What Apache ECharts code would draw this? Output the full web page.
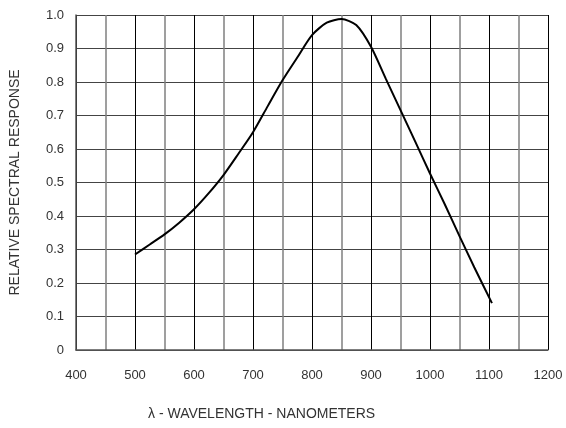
<!DOCTYPE html>
<html>
<head>
<meta charset="utf-8">
<script src="https://cdn.jsdelivr.net/npm/echarts@6/dist/echarts.min.js"></script>
<style>html,body{margin:0;padding:0;background:#fff}#c{width:566px;height:428px}</style>
</head>
<body>
<div id="c"></div>
<script>
const wavelength = [500,525,550,575,600,625,650,675,700,725,750,775,800,825,850,875,900,925,950,975,1000,1025,1050,1075,1105];
const response   = [0.285,0.315,0.345,0.38,0.42,0.468,0.522,0.585,0.65,0.728,0.805,0.873,0.94,0.977,0.988,0.97,0.905,0.81,0.716,0.622,0.527,0.435,0.34,0.247,0.14];
const xTitle = 'λ - WAVELENGTH - NANOMETERS';
const yTitle = 'RELATIVE SPECTRAL RESPONSE';

const chart = echarts.init(document.getElementById('c'));
const font = 'Liberation Sans, Arial, Helvetica, sans-serif';
chart.setOption({
  animation: false,
  backgroundColor: '#fff',
  grid: {left: 74.5, right: 18, top: 15, bottom: 78, containLabel: false},
  xAxis: {
    type: 'value', min: 400, max: 1200, interval: 100,
    axisLine: {show: true, lineStyle: {color: '#555', width: 1.5}},
    axisTick: {show: false},
    axisLabel: {color: '#333', fontSize: 13, fontFamily: font, margin: 19,
      formatter: v => String(v)},
    splitLine: {show: true, lineStyle: {color: '#000', width: 1}},
    minorTick: {show: false, splitNumber: 2},
    minorSplitLine: {show: true, lineStyle: {color: '#808080', width: 1.5}}
  },
  yAxis: {
    type: 'value', min: 0, max: 1, interval: 0.1,
    name: yTitle, nameLocation: 'middle', nameGap: 54,
    nameTextStyle: {color: '#333', fontSize: 14, fontFamily: font},
    axisLine: {show: true, lineStyle: {color: '#555', width: 1.5}},
    axisTick: {show: false},
    axisLabel: {color: '#333', fontSize: 13, fontFamily: font, margin: 12,
      formatter: v => v === 0 ? '0' : v.toFixed(1)},
    splitLine: {show: true, lineStyle: {color: '#444', width: 1.2}}
  },
  graphic: [{
    type: 'text', left: 148, top: 407,
    style: {text: xTitle, fill: '#333', fontSize: 14, fontFamily: font}
  }],
  series: [{
    type: 'line',
    data: wavelength.map((w, i) => [w, response[i]]),
    smooth: 0.25,
    showSymbol: false,
    lineStyle: {color: '#000', width: 2},
    z: 5
  }]
});
</script>
</body>
</html>
